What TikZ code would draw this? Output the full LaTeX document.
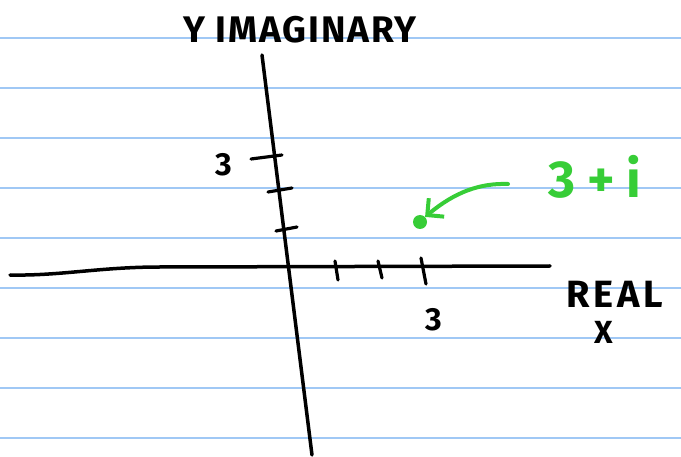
\documentclass[tikz,border=0pt]{standalone}
\usepackage{fontspec}
\setmainfont{Fira Sans}
\usetikzlibrary{arrows.meta,positioning}
\definecolor{ruleblue}{RGB}{160,200,245}
\definecolor{inkgreen}{RGB}{55,205,55}

\begin{document}
\begin{tikzpicture}[x=1pt,y=-1pt,line cap=round,line join=round,
    axis/.style={line width=3.5pt,black},
    tick/.style={line width=3.2pt,black},
    hand/.style={font=\fontsize{32}{32}\selectfont\bfseries,inner sep=0pt},
    greenhand/.style={font=\fontsize{52}{52}\selectfont\bfseries\addfontfeature{LetterSpace=22},text=inkgreen,inner sep=0pt}]

\useasboundingbox (0,0) rectangle (681,457);

% ruled paper
\foreach \r in {38,88,...,438}
    \draw[ruleblue,line width=2pt] (0,\r)--(681,\r);

\coordinate (XL) at (10,275);
\coordinate (XR) at (550,266);
\coordinate (YT) at (262,55);
\coordinate (YB) at (312,455);

\draw[axis] (XL) .. controls (60,276) and (100,267) .. (160,267) -- (XR);
\draw[axis] (YT) -- (YB);

% ticks on the imaginary axis
\draw[tick] (251,159)--(282,155);
\draw[tick] (268,192)--(292,188);
\draw[tick] (276,231)--(297,227);

% ticks on the real axis
\draw[tick] (335,261)--(338,280);
\draw[tick] (378,261)--(382,278);
\draw[tick] (421,258)--(426,284);

\node[hand,font=\fontsize{37}{37}\selectfont\bfseries\addfontfeature{LetterSpace=5}] (Yl) at (300,30) {Y IMAGINARY};
\node[hand] (Ythree) at (224,165) {3};
\node[hand] (Xthree) at (434,320) {3};
\node[hand,font=\fontsize{38}{38}\selectfont\bfseries\addfontfeature{LetterSpace=10}] (Rl) at (615,294) {REAL};
\node[hand] (Xl) at (604,332) {X};

\node[circle,fill=inkgreen,inner sep=0pt,minimum size=14pt] (Pt) at (420,222) {};
\node[greenhand] (Pl) at (595,177) {3+i};
\draw[inkgreen,line width=4pt,-{Straight Barb[length=12pt,width=24pt]}]
    (508,184) .. controls (480,183) and (455,192) .. (Pt.north east);

\end{tikzpicture}
\end{document}
